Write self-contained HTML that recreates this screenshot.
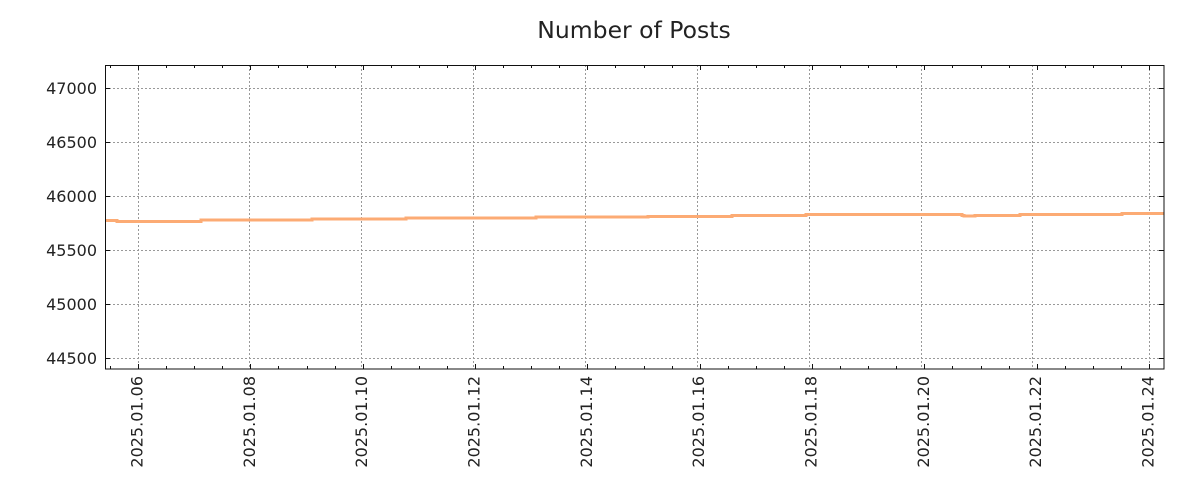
<!DOCTYPE html>
<html><head><meta charset="utf-8"><style>body{margin:0;background:#fff}svg{display:block}text{font-family:"DejaVu Sans","Liberation Sans",sans-serif;fill:#222}</style></head><body>
<svg width="1200" height="500" viewBox="0 0 1200 500" xmlns="http://www.w3.org/2000/svg">
<text x="634" y="38" font-size="23.5" text-anchor="middle">Number of Posts</text>
<g id="grid" stroke="#999" stroke-width="1" stroke-dasharray="2,2">
<line x1="105" x2="1164" y1="88.5" y2="88.5"/><line x1="105" x2="1164" y1="142.5" y2="142.5"/><line x1="105" x2="1164" y1="196.5" y2="196.5"/><line x1="105" x2="1164" y1="250.5" y2="250.5"/><line x1="105" x2="1164" y1="304.5" y2="304.5"/><line x1="105" x2="1164" y1="358.5" y2="358.5"/>
<line y1="65" y2="369" x1="138.5" x2="138.5"/><line y1="65" y2="369" x1="249.5" x2="249.5"/><line y1="65" y2="369" x1="361.5" x2="361.5"/><line y1="65" y2="369" x1="473.5" x2="473.5"/><line y1="65" y2="369" x1="585.5" x2="585.5"/><line y1="65" y2="369" x1="697.5" x2="697.5"/><line y1="65" y2="369" x1="809.5" x2="809.5"/><line y1="65" y2="369" x1="921.5" x2="921.5"/><line y1="65" y2="369" x1="1032.5" x2="1032.5"/><line y1="65" y2="369" x1="1149.5" x2="1149.5"/>
</g>
<polyline fill="none" stroke="#fcab74" stroke-width="3" points="105,220.5 117,220.5 117,221.5 201,221.5 201,220 312,220 312,219 406,219 406,218 536,218 536,217 648,217 648,216.5 732,216.5 732,215.5 806,215.5 806,214.5 962,214.5 962,215.5 964,215.5 964,216 975,216 975,215.5 1020,215.5 1020,214.5 1122,214.5 1122,213.5 1164,213.5"/>
<rect x="105.5" y="65.5" width="1058.5" height="303.5" fill="none" stroke="#111" stroke-width="1"/>
<g stroke="#111" stroke-width="1" id="ticks"></g>
<g font-size="16" text-anchor="end" id="ylab">
<text x="97" y="94">47000</text><text x="97" y="148">46500</text><text x="97" y="202">46000</text><text x="97" y="256">45500</text><text x="97" y="310">45000</text><text x="97" y="364">44500</text>
</g>
<g font-size="16" text-anchor="end" id="xlab"></g>
</svg>
<script>
var ns="http://www.w3.org/2000/svg",t=document.getElementById("ticks"),xl=document.getElementById("xlab");
function L(x1,y1,x2,y2){var l=document.createElementNS(ns,"line");l.setAttribute("x1",x1);l.setAttribute("y1",y1);l.setAttribute("x2",x2);l.setAttribute("y2",y2);t.appendChild(l);}
var d=56.17;
for(var i=-1;i<40;i++){var x=138+i*d/2;if(x<106||x>1163)continue;var maj=(i%4==0);var len=maj?5:3;var px=Math.round(x)+0.5;L(px,369,px,369-len);L(px,65,px,65+len);}
var labs=["06","08","10","12","14","16","18","20","22","24"];
for(var k=0;k<10;k++){var x=138+k*2*d+4.5;var tx=document.createElementNS(ns,"text");tx.setAttribute("transform","translate("+x+",376) rotate(-90)");tx.textContent="2025.01."+labs[k];xl.appendChild(tx);}
[88,142,196,250,304,358].forEach(function(y){L(105,y+.5,110,y+.5);L(1164,y+.5,1159,y+.5);});
</script>
</body></html>
